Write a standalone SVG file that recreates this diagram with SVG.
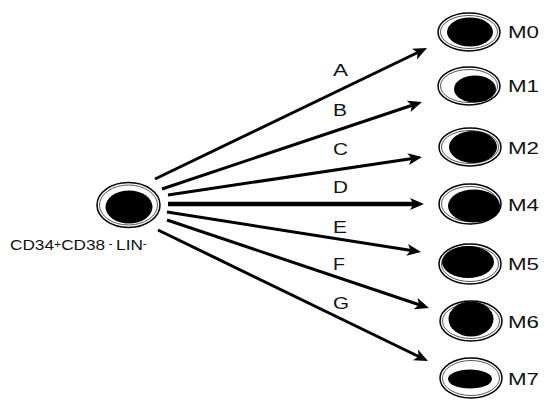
<svg xmlns="http://www.w3.org/2000/svg" width="548" height="400" viewBox="0 0 548 400">
  <style>
    .ring { fill: #fff; stroke: #000; stroke-width: 1.5; }
    .ring2 { fill: none; stroke: #444; stroke-width: 0.9; }
    .core { fill: #000; }
    .lbl { font-family: "Liberation Sans", Arial, sans-serif; font-size: 16px; fill: #111; }
    .src { font-family: "Liberation Sans", Arial, sans-serif; font-size: 14px; fill: #111; }
    .arrow { stroke: #000; stroke-width: 3; fill: none; marker-end: url(#head); }
    .thick { stroke-width: 4.5; }
  </style>
  <defs>
    <marker id="head" markerUnits="userSpaceOnUse" viewBox="0 -7 16 14" markerWidth="16" markerHeight="14" refX="6" refY="0" orient="auto">
      <path d="M0,-6 L14,0 L0,6 L3.5,0 Z" fill="#000"/>
    </marker>
  </defs>
  <rect width="548" height="400" fill="#fff"/>

  <!-- source cell -->
  <g id="source">
    <ellipse class="ring" cx="128.5" cy="205" rx="31.5" ry="22.5"/>
    <ellipse class="ring2" cx="128.5" cy="205" rx="29" ry="20"/>
    <ellipse class="core" cx="129" cy="207" rx="23.5" ry="16.5"/>
    <text class="src" x="10" y="250" textLength="137" lengthAdjust="spacingAndGlyphs">CD34<tspan font-size="10" dy="-2">+</tspan><tspan dy="2">CD38</tspan><tspan font-size="10" dy="-3"> - </tspan><tspan dy="3">LIN</tspan><tspan font-size="10" dy="-3">-</tspan></text>
  </g>

  <!-- connectors -->
  <g id="connectors">
    <line class="arrow" x1="155" y1="179" x2="419.8" y2="51.5"/>
    <line class="arrow" x1="162" y1="189" x2="414.4" y2="104.5"/>
    <line class="arrow" x1="168" y1="195" x2="414.1" y2="158.2"/>
    <line class="arrow thick" x1="168" y1="204" x2="416" y2="204"/>
    <line class="arrow" x1="167" y1="212" x2="413.1" y2="250.8"/>
    <line class="arrow" x1="167" y1="220" x2="421.4" y2="305.5"/>
    <line class="arrow" x1="158" y1="230" x2="420.8" y2="357.5"/>
    <text class="lbl" x="333" y="76" textLength="15" lengthAdjust="spacingAndGlyphs">A</text>
    <text class="lbl" x="333" y="116" textLength="14" lengthAdjust="spacingAndGlyphs">B</text>
    <text class="lbl" x="333" y="155" textLength="15" lengthAdjust="spacingAndGlyphs">C</text>
    <text class="lbl" x="333" y="193" textLength="15" lengthAdjust="spacingAndGlyphs">D</text>
    <text class="lbl" x="333" y="233" textLength="14" lengthAdjust="spacingAndGlyphs">E</text>
    <text class="lbl" x="333" y="270" textLength="12" lengthAdjust="spacingAndGlyphs">F</text>
    <text class="lbl" x="333" y="309" textLength="16" lengthAdjust="spacingAndGlyphs">G</text>
  </g>

  <!-- target cells -->
  <g id="M0">
    <ellipse class="ring" cx="469" cy="32" rx="31" ry="19"/>
    <ellipse class="ring2" cx="469" cy="32" rx="28.5" ry="16.5"/>
    <ellipse class="core" cx="470" cy="32" rx="23" ry="14.5"/>
    <text class="lbl" x="508" y="38" textLength="31" lengthAdjust="spacingAndGlyphs">M0</text>
  </g>
  <g id="M1">
    <ellipse class="ring" cx="469" cy="86" rx="31" ry="19"/>
    <ellipse class="ring2" cx="469" cy="86" rx="28.5" ry="16.5"/>
    <ellipse class="core" cx="475" cy="89" rx="21" ry="13.5"/>
    <text class="lbl" x="508" y="92" textLength="31" lengthAdjust="spacingAndGlyphs">M1</text>
  </g>
  <g id="M2">
    <ellipse class="ring" cx="470" cy="147" rx="31" ry="19"/>
    <ellipse class="ring2" cx="470" cy="147" rx="28.5" ry="16.5"/>
    <ellipse class="core" cx="473" cy="147" rx="24" ry="16"/>
    <text class="lbl" x="508" y="154" textLength="31" lengthAdjust="spacingAndGlyphs">M2</text>
  </g>
  <g id="M4">
    <ellipse class="ring" cx="470" cy="204" rx="31" ry="20"/>
    <ellipse class="ring2" cx="470" cy="204" rx="28.5" ry="17.5"/>
    <ellipse class="core" cx="474" cy="206" rx="26" ry="16.5"/>
    <text class="lbl" x="508" y="211" textLength="31" lengthAdjust="spacingAndGlyphs">M4</text>
  </g>
  <g id="M5">
    <ellipse class="ring" cx="470" cy="264" rx="31" ry="20"/>
    <ellipse class="ring2" cx="470" cy="264" rx="28.5" ry="17.5"/>
    <ellipse class="core" cx="468" cy="262" rx="26" ry="16"/>
    <text class="lbl" x="508" y="270" textLength="31" lengthAdjust="spacingAndGlyphs">M5</text>
  </g>
  <g id="M6">
    <ellipse class="ring" cx="471" cy="321" rx="31" ry="20"/>
    <ellipse class="ring2" cx="471" cy="321" rx="28.5" ry="17.5"/>
    <ellipse class="core" cx="471" cy="319" rx="22.5" ry="17.5"/>
    <text class="lbl" x="508" y="328" textLength="31" lengthAdjust="spacingAndGlyphs">M6</text>
  </g>
  <g id="M7">
    <ellipse class="ring" cx="471" cy="378" rx="31" ry="20"/>
    <ellipse class="ring2" cx="471" cy="378" rx="28.5" ry="17.5"/>
    <ellipse class="core" cx="470" cy="379" rx="22" ry="9.5"/>
    <text class="lbl" x="508" y="385" textLength="31" lengthAdjust="spacingAndGlyphs">M7</text>
  </g>
</svg>
